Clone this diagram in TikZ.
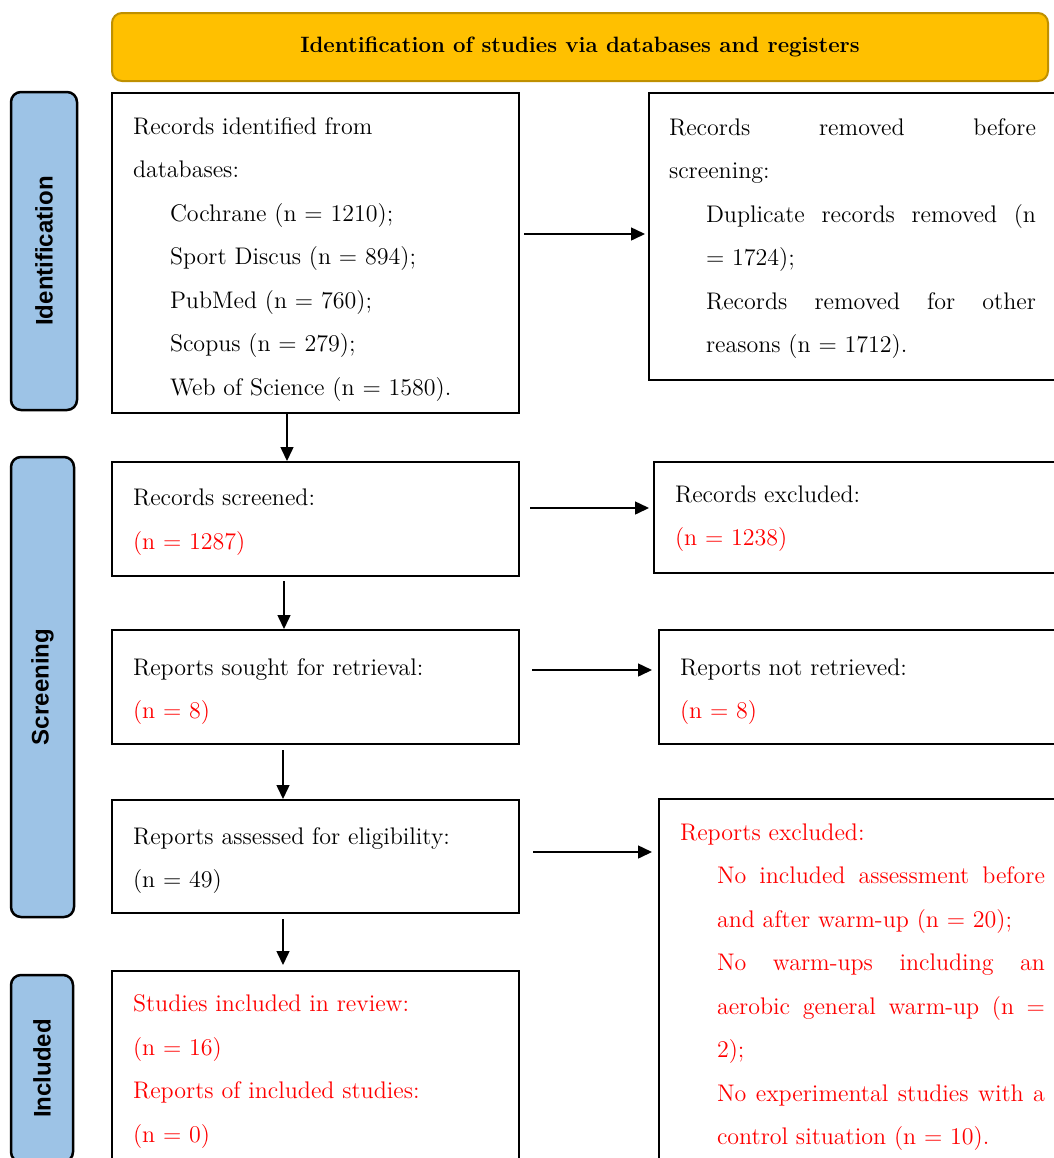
\documentclass[tikz,border=0pt]{standalone}
\usepackage{fontspec}
\setsansfont{Liberation Sans}
\usetikzlibrary{arrows.meta}
\definecolor{headgold}{HTML}{FFC000}
\definecolor{headedge}{HTML}{BF9000}
\definecolor{sideblue}{HTML}{9DC3E6}
\newcommand{\ind}{\hspace*{18.5pt}}
\newcommand{\topgap}[1]{\rule{0pt}{#1}}

\begin{document}
\begin{tikzpicture}[x=0.5pt, y=-0.5pt,
    box/.style={draw, line width=1pt, anchor=north west, align=left, inner xsep=10.5pt, text width=182.5pt, font=\fontsize{12}{21.75}\selectfont, execute at begin node={\spaceskip=0pt\xspaceskip=0pt\relax}},
    side/.style={draw, line width=1.25pt, fill=sideblue, rounded corners=5pt, rotate=90, font=\sffamily\bfseries\fontsize{12}{14}\selectfont},
    flow/.style={-{Triangle[length=7pt,width=6.5pt]}, line width=0.75pt}]
    \useasboundingbox (0,0) rectangle (1054,1158);
    \clip (0,0) rectangle (1054,1158);

    %header and phase labels
    \node[draw=headedge, fill=headgold, line width=1pt, rounded corners=5pt, minimum width=468pt, minimum height=34pt, font=\bfseries\fontsize{11.1}{14}\selectfont] (head) at (580,47) {Identification of studies via databases and registers};
    \node[side, minimum width=159pt, minimum height=33pt] (sid) at (44,251) {Identification};
    \node[side, minimum width=230pt, minimum height=31.5pt] (sscr) at (42.5,687) {Screening};
    \node[side, minimum width=93.5pt, minimum height=31pt] (sinc) at (42,1068.5) {Included};

    %main column
    \node[box, minimum height=160pt] (ident) at (111,92) {\topgap{14.8pt}Records identified from\\ databases:\\ \ind Cochrane (n = 1210);\\ \ind Sport Discus (n = 894);\\ \ind PubMed (n = 760);\\ \ind Scopus (n = 279);\\ \ind Web of Science (n = 1580).};
    \node[box, minimum height=57pt] (screened) at (111,461) {\topgap{11.3pt}Records screened:\\ \textcolor{red}{(n = 1287)}};
    \node[box, minimum height=57pt] (sought) at (111,629) {\topgap{12.8pt}Reports sought for retrieval:\\ \textcolor{red}{(n = 8)}};
    \node[box, minimum height=56.5pt] (assessed) at (111,799) {\topgap{12.3pt}Reports assessed for eligibility:\\ (n = 49)};
    \node[box, text=red, inner ysep=11.8pt] (included) at (111,970) {Studies included in review:\\ (n = 16)\\ Reports of included studies:\\ (n = 0)};

    %side column
    \node[box, text width=186pt, inner xsep=10pt, minimum height=143.5pt] (removed) at (648,92) {\topgap{10.3pt}\makebox[183.5pt][s]{Records removed before}\\ screening:\\ \ind\makebox[165pt][s]{Duplicate records removed (n}\\ \ind = 1724);\\ \ind\makebox[165pt][s]{Records removed for other}\\ \ind reasons (n = 1712).};
    \node[box, minimum height=55.5pt] (excluded) at (653,461) {\topgap{9.3pt}Records excluded:\\ \textcolor{red}{(n = 1238)}};
    \node[box, minimum height=57pt] (notret) at (658,629) {\topgap{12.8pt}Reports not retrieved:\\ \textcolor{red}{(n = 8)}};
    \node[box, text=red, text width=185pt, inner ysep=12.3pt] (repexcl) at (658,798) {Reports excluded:\\ \ind\makebox[164pt][s]{No included assessment before}\\ \ind and after warm-up (n = 20);\\ \ind\makebox[164pt][s]{No warm-ups including an}\\ \ind\makebox[164pt][s]{aerobic general warm-up (n =}\\ \ind 2);\\ \ind\makebox[164pt][s]{No experimental studies with a}\\ \ind control situation (n = 10).};

    %arrows down
    \coordinate (c1) at (287,0);
    \coordinate (c2) at (284,0);
    \coordinate (c3) at (283,0);
    \draw[flow] (ident.south -| c1) -- (screened.north -| c1);
    \draw[flow, shorten <=2pt] (screened.south -| c2) -- (sought.north -| c2);
    \draw[flow, shorten <=2.5pt] (sought.south -| c3) -- (assessed.north -| c3);
    \draw[flow, shorten <=2.5pt, shorten >=2.5pt] (assessed.south -| c3) -- (included.north -| c3);

    %arrows across
    \coordinate (r1) at (0,234);
    \coordinate (r2) at (0,508);
    \coordinate (r3) at (0,670);
    \coordinate (r4) at (0,852);
    \draw[flow, shorten <=2pt, shorten >=1.5pt] (ident.east |- r1) -- (removed.west |- r1);
    \draw[flow, shorten <=5pt, shorten >=2pt] (screened.east |- r2) -- (excluded.west |- r2);
    \draw[flow, shorten <=6pt, shorten >=3pt] (sought.east |- r3) -- (notret.west |- r3);
    \draw[flow, shorten <=6.5pt, shorten >=3pt] (assessed.east |- r4) -- (repexcl.west |- r4);
\end{tikzpicture}
\end{document}
